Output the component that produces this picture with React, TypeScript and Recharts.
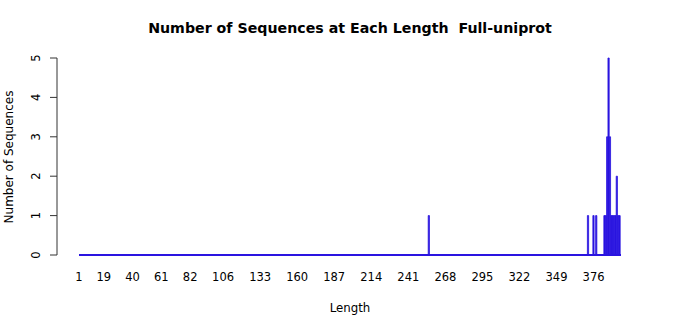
import React from 'react'
import { ComposedChart, Bar, XAxis, YAxis, ReferenceLine, Label } from 'recharts'

// sequence lengths that occur, and how many sequences have each
const lengths = [256, 372, 376, 378, 384, 385, 386, 387, 388, 389, 390, 391, 392, 393, 394, 395]
const counts = [1, 1, 1, 1, 1, 1, 3, 5, 3, 1, 1, 1, 1, 2, 1, 1]

const xTicks = [1, 19, 40, 61, 82, 106, 133, 160, 187, 214, 241, 268, 295, 322, 349, 376]
const yTicks = [0, 1, 2, 3, 4, 5]
const minLength = 1
const maxLength = 396

const data = lengths.map((len, i) => ({ len, count: counts[i] }))

const FONT = '"DejaVu Sans", sans-serif'
const BAR = '#2a14e0'

const YTick = (props: any) => {
  const { x, y, payload } = props
  return (
    <text
      transform={`translate(${x - 8},${y}) rotate(-90)`}
      textAnchor="middle"
      fontFamily={FONT}
      fontSize={11.5}
      fill="#000"
    >
      {payload.value}
    </text>
  )
}

export default function App() {
  return (
    <div style={{ position: 'absolute', left: 0, top: 0, width: 700, height: 315, background: '#fff' }}>
      <div
        style={{
          position: 'absolute',
          top: 20,
          left: 0,
          width: 700,
          textAlign: 'center',
          fontFamily: FONT,
          fontWeight: 'bold',
          fontSize: 14.2,
          whiteSpace: 'pre',
          color: '#000',
        }}
      >
        {'Number of Sequences at Each Length  Full-uniprot'}
      </div>
      <ComposedChart
        width={700}
        height={315}
        data={data}
        margin={{ top: 58, right: 79, bottom: 0, left: 0 }}
      >
        <XAxis
          dataKey="len"
          type="number"
          domain={[minLength, maxLength]}
          ticks={xTicks}
          interval={0}
          padding={{ left: 22, right: 0 }}
          axisLine={false}
          tickLine={false}
          tickSize={0}
          tickMargin={18}
          height={60}
          tick={{ fontFamily: FONT, fontSize: 11.5, fill: '#000' }}
        >
          <Label
            content={() => (
              <text x={350} y={312} textAnchor="middle" fontFamily={FONT} fontSize={11.8} fill="#000">
                Length
              </text>
            )}
          />
        </XAxis>
        <YAxis
          type="number"
          domain={[0, 5]}
          ticks={yTicks}
          interval={0}
          width={57}
          axisLine={{ stroke: '#333', strokeWidth: 1 }}
          tickLine={{ stroke: '#333', strokeWidth: 1 }}
          tickSize={7}
          tick={<YTick />}
        >
          <Label
            content={() => (
              <text
                transform="translate(13,157) rotate(-90)"
                textAnchor="middle"
                fontFamily={FONT}
                fontSize={12}
                fill="#000"
              >
                Number of Sequences
              </text>
            )}
          />
        </YAxis>
        <ReferenceLine
          segment={[
            { x: minLength, y: 0 },
            { x: maxLength, y: 0 },
          ]}
          stroke={BAR}
          strokeWidth={2}
        />
        <Bar
          dataKey="count"
          fill={BAR}
          stroke={BAR}
          strokeWidth={0.8}
          barSize={2}
          isAnimationActive={false}
        />
      </ComposedChart>
    </div>
  )
}
